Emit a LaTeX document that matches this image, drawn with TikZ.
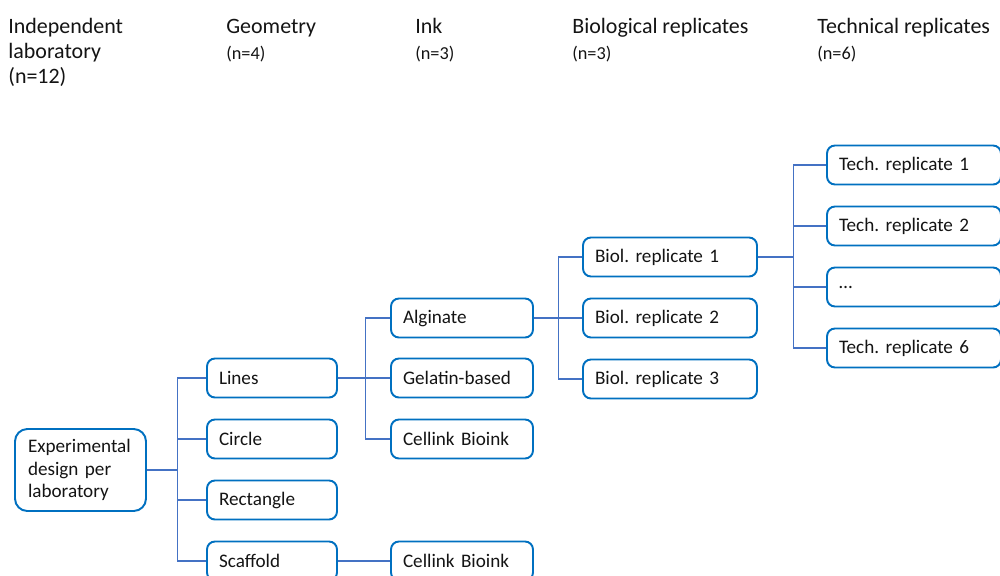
\documentclass[tikz,border=0pt]{standalone}
\usepackage{fontspec}
\setmainfont{Carlito}
\frenchspacing
\usetikzlibrary{positioning}
\definecolor{boxblue}{RGB}{0,112,192}
\definecolor{linkblue}{RGB}{68,114,196}
\definecolor{ink}{RGB}{20,20,20}
\tikzset{
  item/.style={draw=boxblue,line width=1.1pt,rounded corners=4.5pt,fill=white,
    minimum height=7.8mm,text width=#1,align=left,inner xsep=2.4mm,inner ysep=0pt,
    font=\fontsize{10.9}{13}\selectfont,text=ink},
  item/.default=2.12cm,
  root/.style={item=2.1cm,inner xsep=2.6mm,minimum height=16.4mm,rounded corners=7pt},
  head/.style={anchor=base west,inner sep=0pt,align=left,text=ink,
    font=\fontsize{12.5}{14.2}\selectfont},
  sub/.style={anchor=base west,inner sep=0pt,text=ink,font=\fontsize{10.4}{12}\selectfont},
  link/.style={draw=linkblue,line width=0.6pt},
}
\begin{document}
\begin{tikzpicture}[x=0.02cm,y=-0.02cm]
  \useasboundingbox (0,0) rectangle (1000,575);
  % column headings (base of a multi-line node is its last line)
  \node[head] (hlab) at (8,83) {Independent\\laboratory\\(n=12)};
  \node[head] (hgeo) at (226,33) {Geometry};
  \node[sub] (ngeo) at (226,59) {(n=4)};
  \node[head] (hink) at (415,33) {Ink};
  \node[sub] (nink) at (415,59) {(n=3)};
  \node[head] (hbio) at (572,33) {Biological replicates};
  \node[sub] (nbio) at (572,59) {(n=3)};
  \node[head] (htec) at (817,33) {Technical replicates};
  \node[sub] (ntec) at (817,59) {(n=6)};
  % boxes
  \node[root] (root) at (80.5,470) {Experimental\\design per\\laboratory};
  \node[item] (lines) at (272,378) {Lines};
  \node[item] (circle) at (272,439) {Circle};
  \node[item] (rect) at (272,500) {Rectangle};
  \node[item] (scaf) at (272,561) {Scaffold};
  \node[item=2.36cm] (alg) at (462,318) {Alginate};
  \node[item=2.36cm] (gel) at (462,378) {Gelatin-based};
  \node[item=2.36cm] (cella) at (462,439) {Cellink Bioink};
  \node[item=2.36cm] (cellb) at (462,561) {Cellink Bioink};
  \foreach \i/\y in {1/257,2/318,3/379}
    \node[item=3cm] (bio\i) at (670,\y) {Biol. replicate \i};
  \foreach \i/\t/\y in {1/Tech. replicate 1/165,2/Tech. replicate 2/226,3/\dots/287,6/Tech. replicate 6/348}
    \node[item=3cm] (tec\i) at (914,\y) {\t};
  % connectors
  \draw[link] (root.east) -- ++(31,0) coordinate (jgeo);
  \foreach \n in {lines,circle,rect,scaf} \draw[link] (jgeo) |- (\n.west);
  \draw[link] (lines.east) -- ++(28,0) coordinate (jink);
  \foreach \n in {alg,gel,cella} \draw[link] (jink) |- (\n.west);
  \draw[link] (scaf.east) -- (cellb.west);
  \draw[link] (alg.east) -- ++(25,0) coordinate (jbio);
  \foreach \n in {bio1,bio2,bio3} \draw[link] (jbio) |- (\n.west);
  \draw[link] (bio1.east) -- ++(36,0) coordinate (jtec);
  \foreach \n in {tec1,tec2,tec3,tec6} \draw[link] (jtec) |- (\n.west);
\end{tikzpicture}
\end{document}
